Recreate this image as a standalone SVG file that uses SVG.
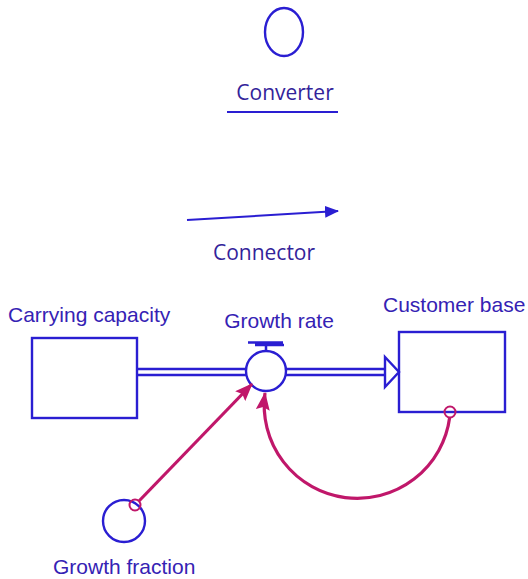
<svg xmlns="http://www.w3.org/2000/svg" width="528" height="579" viewBox="0 0 528 579">
<style>
.shape{fill:none;stroke:#2a1ed2;stroke-width:2.4}
.calibri{font-family:"Open Sans","Liberation Sans",sans-serif;font-size:21px;fill:#33239a}
.helv{font-family:"Liberation Sans",Arial,sans-serif;font-size:21px;fill:#3522b4}
.link{fill:none;stroke:#c0176a;stroke-width:3.2}
.tap{fill:none;stroke:#c0176a;stroke-width:2}
</style>
<defs>
<marker id="blueArrow" markerUnits="userSpaceOnUse" markerWidth="14" markerHeight="12" viewBox="0 0 14 12" refX="13" refY="6" orient="auto">
<path d="M0,0 L14,6 L0,12 Z" fill="#2a1ed2"/>
</marker>
<marker id="linkArrow" markerUnits="userSpaceOnUse" markerWidth="18" markerHeight="14" viewBox="0 0 18 14" refX="17" refY="7" orient="auto">
<path d="M0,0 L18,7 L0,14 L3,7 Z" fill="#c0176a"/>
</marker>
</defs>

<g id="legend-converter">
<ellipse class="shape" cx="284" cy="32" rx="19" ry="24"/>
<text class="calibri" x="285" y="100" text-anchor="middle">Converter</text>
<line x1="227" y1="112" x2="338" y2="112" stroke="#2a1ed2" stroke-width="2"/>
</g>

<g id="legend-connector">
<line x1="187" y1="220" x2="338" y2="211" stroke="#2a1ed2" stroke-width="2" marker-end="url(#blueArrow)"/>
<text class="calibri" x="264" y="260" text-anchor="middle">Connector</text>
</g>

<g id="carrying-capacity">
<rect class="shape" x="32" y="338" width="105" height="80"/>
<text class="helv" x="8" y="322">Carrying capacity</text>
</g>

<g id="customer-base">
<rect class="shape" x="399" y="332" width="106" height="80"/>
<text class="helv" x="383" y="312">Customer base</text>
</g>

<g id="growth-rate">
<circle class="shape" cx="266" cy="371" r="20"/>
<path d="M248,342.5 H283 M255,345 H284 M266,346 V351" fill="none" stroke="#2a1ed2" stroke-width="2.5"/>
<text class="helv" x="279" y="328" text-anchor="middle">Growth rate</text>
</g>

<g id="growth-fraction">
<circle class="shape" cx="124" cy="521" r="21"/>
<text class="helv" x="53" y="574">Growth fraction</text>
</g>

<g id="connectors">
<g id="flow-in">
<line x1="137" y1="369" x2="246" y2="369" class="shape"/>
<line x1="137" y1="375" x2="246" y2="375" class="shape"/>
</g>
<g id="flow-out">
<line x1="286" y1="369" x2="386" y2="369" class="shape"/>
<line x1="286" y1="375" x2="386" y2="375" class="shape"/>
<path d="M385,357 L399,372 L385,387 Z" class="shape"/>
</g>
<g id="link-fraction">
<line class="link" x1="139" y1="501" x2="252" y2="384" marker-end="url(#linkArrow)"/>
<circle class="tap" cx="135" cy="505" r="5.5"/>
</g>
<g id="link-base">
<path class="link" d="M449.7,417.3 A93,93 0 1 1 265,393" marker-end="url(#linkArrow)"/>
<circle class="tap" cx="450" cy="412" r="5.5"/>
</g>
</g>
</svg>
